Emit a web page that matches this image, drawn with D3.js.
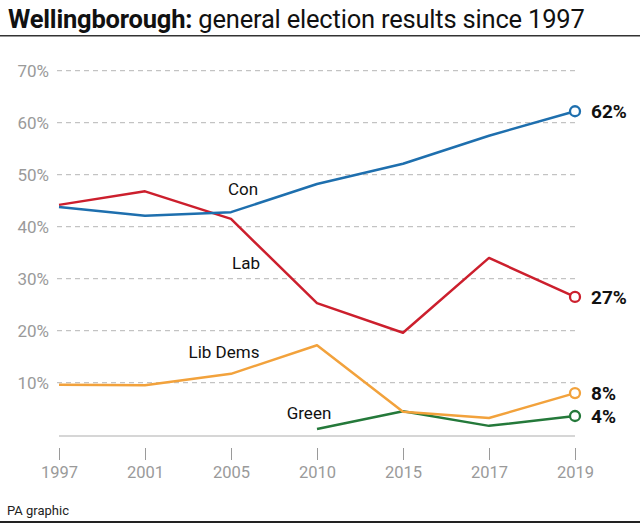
<!DOCTYPE html>
<html><head><meta charset="utf-8">
<script src="https://cdn.jsdelivr.net/npm/d3@7"></script>
<style>body{margin:0;background:#fff}svg{display:block}</style>
</head><body>
<svg id="c" width="640" height="528"></svg>
<script>
const years = ["1997","2001","2005","2010","2015","2017","2019"];
const conValues = [43.8, 42.1, 42.8, 48.2, 52.1, 57.5, 62.2];
const labValues = [44.2, 46.8, 41.5, 25.3, 19.6, 34.0, 26.5];
const ldValues  = [9.6, 9.5, 11.7, 17.2, 4.4, 3.2, 8.0];
const greenValues = [null, null, null, 1.1, 4.5, 1.7, 3.6];
const seriesNames = ["Con","Lab","Lib Dems","Green"];
const endLabels = ["62%","27%","8%","4%"];
const yTicks = [10,20,30,40,50,60,70];

const colors = {"Con":"#1e6fae","Lab":"#cc1f2d","Lib Dems":"#f2a23c","Green":"#24793a"};
const series = [
  {name:seriesNames[0], values:conValues, label:endLabels[0], tx:243, ty:189},
  {name:seriesNames[1], values:labValues, label:endLabels[1], tx:246, ty:263},
  {name:seriesNames[2], values:ldValues, label:endLabels[2], tx:224, ty:352},
  {name:seriesNames[3], values:greenValues, label:endLabels[3], tx:309, ty:413}
];

const svg = d3.select("#c");
const font = "Roboto, 'Liberation Sans', Arial, sans-serif";
const x = d3.scalePoint().domain(years).range([59,575]);
const y = d3.scaleLinear().domain([0,70]).range([434.7,70.7]);

// Title
const title = svg.append("text").attr("x",8).attr("y",28).attr("font-family",font).attr("font-size",25.5).attr("fill","#111").style("letter-spacing","-0.2px");
title.append("tspan").attr("font-weight",700).text("Wellingborough:");
title.append("tspan").attr("font-weight",400).text(" general election results since 1997");
svg.append("rect").attr("x",0).attr("y",35).attr("width",640).attr("height",1.5).attr("fill","#333");

// grid
const g = svg.append("g");
g.selectAll("line.grid").data(yTicks).join("line")
  .attr("x1",57).attr("x2",575).attr("y1",d=>y(d)).attr("y2",d=>y(d))
  .attr("stroke","#b5b5b5").attr("stroke-width",1).attr("stroke-dasharray","5,4");
g.selectAll("text.yl").data(yTicks).join("text")
  .attr("x",49).attr("y",d=>y(d)).attr("dy","0.35em").attr("text-anchor","end")
  .attr("font-family",font).attr("font-size",17).attr("fill","#9a9a9a").text(d=>d+"%");

// x axis
const xAxis = d3.axisBottom(x).tickSize(12).tickPadding(6);
const ax = svg.append("g").attr("transform","translate(0,436)").call(xAxis);
ax.select(".domain").remove();
ax.selectAll(".tick line").attr("stroke","#9a9a9a").attr("y1",12).attr("y2",24);
ax.selectAll(".tick text").attr("y",36).attr("dy","0.35em").attr("font-family",font).attr("font-size",16.5).attr("fill","#9a9a9a");
svg.append("line").attr("x1",59).attr("x2",575).attr("y1",436).attr("y2",436).attr("stroke","#c8c8c8").attr("stroke-width",1.5);

// lines
const line = d3.line().defined(d=>d!=null).x((d,i)=>x(years[i])).y(d=>y(d));
series.slice().reverse().forEach(s=>{
  svg.append("path").datum(s.values).attr("d",line).attr("fill","none")
    .attr("stroke",colors[s.name]).attr("stroke-width",2.5).attr("stroke-linejoin","round");
});
series.forEach(s=>{
  const v = s.values[s.values.length-1];
  svg.append("circle").attr("cx",x("2019")).attr("cy",y(v)).attr("r",5)
    .attr("fill","#fff").attr("stroke",colors[s.name]).attr("stroke-width",2.3);
  svg.append("text").attr("x",591).attr("y",y(v)).attr("dy","0.35em")
    .attr("font-family",font).attr("font-size",19).attr("font-weight",700).attr("fill","#111").text(s.label);
  svg.append("text").attr("x",s.tx).attr("y",s.ty).attr("dy","0.35em").attr("text-anchor","middle")
    .attr("font-family",font).attr("font-size",17).attr("fill","#111").text(s.name);
});

// footer
svg.append("text").attr("x",7).attr("y",515).attr("font-family",font).attr("font-size",13).attr("fill","#222").text("PA graphic");
svg.append("rect").attr("x",0).attr("y",521).attr("width",640).attr("height",2).attr("fill","#222");
</script>
</body></html>
